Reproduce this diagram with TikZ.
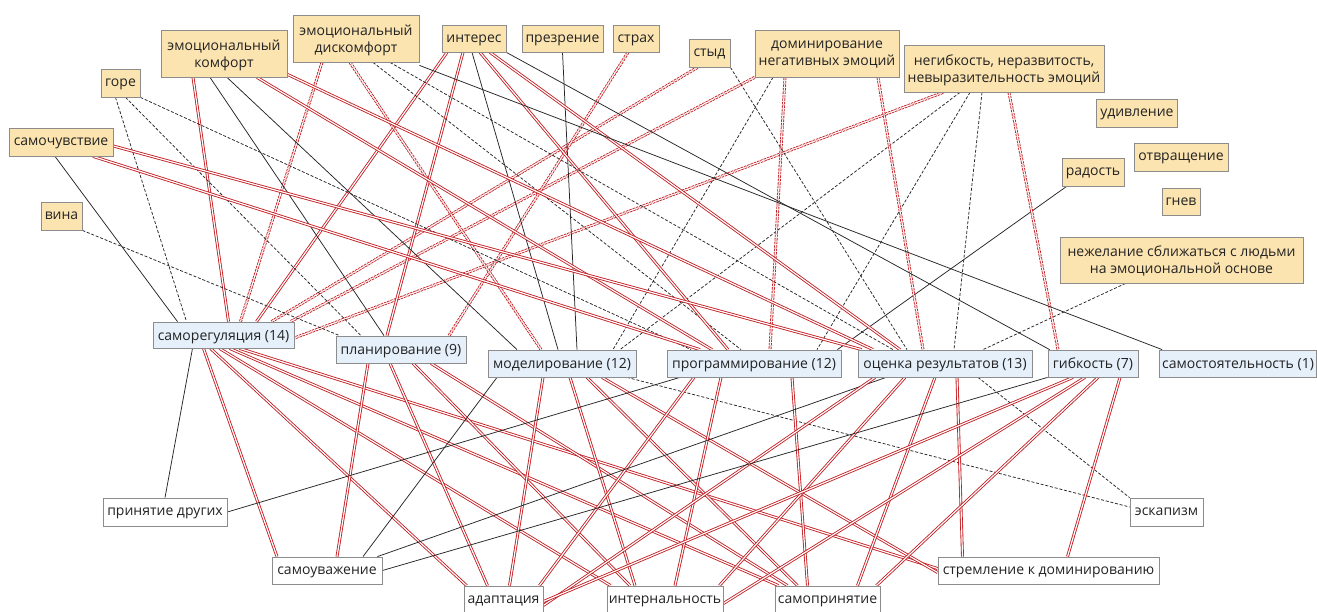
\documentclass[tikz,border=0pt]{standalone}
\usepackage{fontspec}
\setmainfont{Open Sans}
\usetikzlibrary{backgrounds}
\definecolor{emofill}{RGB}{252,228,176}
\definecolor{regfill}{RGB}{229,240,250}
\definecolor{boxgray}{RGB}{140,140,140}
\definecolor{textgray}{RGB}{35,35,35}
\definecolor{linered}{RGB}{195,28,33}
\begin{document}
\begin{tikzpicture}[x=1pt,y=-1pt,
  font=\fontsize{14}{17}\selectfont,
  box/.style={draw=boxgray, line width=0.8pt, inner sep=0pt, align=center, text=textgray, text depth=-1pt},
  emo/.style={box, fill=emofill},
  reg/.style={box, fill=regfill},
  per/.style={box, fill=white},
  pb/.style={draw=black!85, line width=0.75pt},
  nb/.style={draw=black!85, line width=0.75pt, dash pattern=on 3pt off 1.8pt},
  pr/.style={draw=linered, line width=0.85pt, double=white, double distance=1.2pt},
  nr/.style={draw=linered, line width=0.85pt, double=white, double distance=1.2pt, dash pattern=on 2.5pt off 1pt},
]
\useasboundingbox (0,0) rectangle (1317,612);
% emotions
\node[emo, minimum width=39, minimum height=28] (gore) at (120.5,83) {горе};
\node[emo, minimum width=104, minimum height=28] (samoch) at (61,142) {самочувствие};
\node[emo, minimum width=41, minimum height=28] (vina) at (61.5,216) {вина};
\node[emo, minimum width=126, minimum height=47] (emkomf) at (224,53.5) {эмоциональный\\комфорт};
\node[emo, minimum width=126, minimum height=47] (emdisk) at (356,38.5) {эмоциональный\\дискомфорт};
\node[emo, minimum width=64, minimum height=27] (interes) at (474,38.5) {интерес};
\node[emo, minimum width=81, minimum height=27] (prezr) at (562.5,38.5) {презрение};
\node[emo, minimum width=46, minimum height=27] (strah) at (636,38.5) {страх};
\node[emo, minimum width=41, minimum height=28] (styd) at (709.5,53) {стыд};
\node[emo, minimum width=144, minimum height=47] (domin) at (827,53.5) {доминирование\\негативных эмоций};
\node[emo, minimum width=200, minimum height=47] (negib) at (1004,68.5) {негибкость, неразвитость,\\невыразительность эмоций};
\node[emo, minimum width=81, minimum height=28] (udiv) at (1137,113) {удивление};
\node[emo, minimum width=94, minimum height=28] (otvr) at (1181,157) {отвращение};
\node[emo, minimum width=62, minimum height=28] (radost) at (1093,172) {радость};
\node[emo, minimum width=38, minimum height=27] (gnev) at (1181,201.5) {гнев};
\node[emo, minimum width=243, minimum height=46] (nezhel) at (1181.5,260) {нежелание сближаться с людьми\\на эмоциональной основе};
% regulation
\node[reg, minimum width=141, minimum height=26] (samoreg) at (223.5,335) {саморегуляция (14)};
\node[reg, minimum width=130, minimum height=27] (plan) at (401,349.5) {планирование (9)};
\node[reg, minimum width=148, minimum height=27] (model) at (562,363.5) {моделирование (12)};
\node[reg, minimum width=174, minimum height=27] (prog) at (754,363.5) {программирование (12)};
\node[reg, minimum width=174, minimum height=27] (ocen) at (945,363.5) {оценка результатов (13)};
\node[reg, minimum width=90, minimum height=27] (gibk) at (1093,363.5) {гибкость (7)};
\node[reg, minimum width=157, minimum height=27] (samost) at (1238,363.5) {самостоятельность (1)};
% personality
\node[per, minimum width=124, minimum height=28] (prin) at (165,512) {принятие других};
\node[per, minimum width=110, minimum height=27] (samouv) at (327,570.5) {самоуважение};
\node[per, minimum width=79, minimum height=27] (adapt) at (503.5,599.5) {адаптация};
\node[per, minimum width=116, minimum height=27] (intern) at (665,599.5) {интернальность};
\node[per, minimum width=105, minimum height=27] (samopr) at (827.5,599.5) {самопринятие};
\node[per, minimum width=221, minimum height=27] (strem) at (1048.5,570.5) {стремление к доминированию};
\node[per, minimum width=73, minimum height=28] (eskap) at (1166.5,512) {эскапизм};
\begin{scope}[on background layer]
\fill[white] (0,0) rectangle (1317,612);
% samoreg, upper
\draw[pb] ([xshift=-6pt]samoch.south) -- ([xshift=-46pt]samoreg.north);
\draw[nb] ([xshift=-5pt]gore.south) -- ([xshift=-37pt]samoreg.north);
\draw[pr] ([xshift=-31pt]emkomf.south) -- ([xshift=5pt]samoreg.north);
\draw[nr] ([xshift=-34pt]emdisk.south) -- ([xshift=17pt]samoreg.north);
\draw[pr] ([xshift=-27pt]interes.south) -- ([xshift=33pt]samoreg.north);
\draw[nr] ([xshift=-12pt]styd.south) -- ([xshift=48pt]samoreg.north);
\draw[nr] (domin.south west) -- ([xshift=-4pt]samoreg.north east);
\draw[nr] ([xshift=-61pt]negib.south) -- ([yshift=-3pt]samoreg.east);
% samoreg, lower
\draw[pb] ([xshift=-31pt]samoreg.south) -- (prin.north);
\draw[pr] ([xshift=-20pt]samoreg.south) -- ([xshift=-50pt]samouv.north);
\draw[pr] ([xshift=-13pt]samoreg.south) -- ([xshift=3pt]adapt.north west);
\draw[pr] ([xshift=-4pt]samoreg.south) -- ([xshift=4pt]intern.north west);
\draw[pr] ([xshift=6pt]samoreg.south) -- ([xshift=4pt]samopr.north west);
\draw[pr] ([xshift=16pt]samoreg.south) -- ([yshift=2pt]strem.west);
% plan
\draw[nb] (vina.south east) -- ([xshift=4pt]plan.north west);
\draw[nb] ([xshift=5pt]gore.south) -- ([xshift=-40pt]plan.north);
\draw[pb] ([xshift=-14pt]emkomf.south) -- ([xshift=-17pt]plan.north);
\draw[nr] ([xshift=-8pt]strah.south) -- ([xshift=48pt]plan.north);
\draw[pr] ([xshift=-11pt]interes.south) -- ([xshift=-14pt]plan.north);
\draw[pr] ([xshift=-33pt]plan.south) -- ([xshift=10pt]samouv.north);
\draw[pr] ([xshift=-11pt]plan.south) -- ([xshift=-16pt]adapt.north);
\draw[pr] ([xshift=12pt]plan.south) -- ([xshift=-35pt]intern.north);
\draw[pr] ([xshift=30pt]plan.south) -- ([xshift=-40pt]samopr.north);
% model
\draw[pb] ([xshift=3pt]emkomf.south) -- ([xshift=-45pt]model.north);
\draw[pb] ([xshift=-2pt]interes.south) -- ([xshift=-4pt]model.north);
\draw[pb] (prezr.south) -- ([xshift=15pt]model.north);
\draw[nr] ([xshift=-6pt]emdisk.south) -- ([xshift=-21pt]model.north);
\draw[nb] ([xshift=-54pt]domin.south) -- ([xshift=51pt]model.north);
\draw[nb] ([xshift=-44pt]negib.south) -- ([xshift=58pt]model.north);
\draw[pb] ([xshift=-65pt]model.south) -- ([xshift=36pt]samouv.north);
\draw[nb] ([xshift=65pt]model.south) -- ([yshift=5pt]eskap.west);
\draw[pr] ([xshift=-19pt]model.south) -- ([xshift=6pt]adapt.north);
\draw[pr] ([xshift=8pt]model.south) -- ([xshift=-30pt]intern.north);
\draw[pr] ([xshift=25pt]model.south) -- ([xshift=-30pt]samopr.north);
\draw[pr] ([xshift=40pt]model.south) -- ([yshift=-2pt]strem.west);
% prog
\draw[nb] (gore.south east) -- ([xshift=-63pt]prog.north);
\draw[nb] ([xshift=17pt]emdisk.south) -- ([xshift=-13pt]prog.north);
\draw[pr] ([xshift=32pt]samoch.south) -- ([xshift=-54pt]prog.north);
\draw[pr] ([xshift=33pt]emkomf.south) -- ([xshift=-42pt]prog.north);
\draw[pr] ([xshift=6pt]interes.south) -- ([xshift=-26pt]prog.north);
\draw[nr] ([xshift=-42pt]domin.south) -- ([xshift=16pt]prog.north);
\draw[nb] ([xshift=-34pt]negib.south) -- ([xshift=63pt]prog.north);
\draw[pb] ([xshift=5pt]radost.south west) -- ([xshift=-4pt]prog.north east);
\draw[pb] ([xshift=-74pt]prog.south) -- (prin.east);
\draw[pr] ([xshift=-60pt]prog.south) -- ([xshift=-4pt]adapt.north east);
\draw[pr] ([xshift=-33pt]prog.south) -- ([xshift=10pt]intern.north);
\draw[pr] ([xshift=38pt]prog.south) -- ([xshift=-20pt]samopr.north);
% ocen
\draw[nb] ([xshift=34pt]emdisk.south) -- ([xshift=-52pt]ocen.north);
\draw[nb] (styd.south east) -- ([xshift=-38pt]ocen.north);
\draw[pr] ([xshift=16pt]interes.south) -- ([xshift=-45pt]ocen.north);
\draw[pr] ([yshift=-4pt]samoch.east) -- ([xshift=4pt]ocen.north west);
\draw[pr] ([yshift=3pt]emkomf.south east) -- ([xshift=-72pt]ocen.north);
\draw[nr] ([xshift=51pt]domin.south) -- ([xshift=-22pt]ocen.north);
\draw[nb] ([xshift=-22pt]negib.south) -- ([xshift=9pt]ocen.north);
\draw[nb] ([xshift=-56pt]nezhel.south) -- ([xshift=38pt]ocen.north);
\draw[pb] ([xshift=-59pt]ocen.south) -- ([xshift=-5pt]samouv.north east);
\draw[nb] ([xshift=33pt]ocen.south) -- (eskap.north west);
\draw[pr] ([xshift=12pt]ocen.south) -- ([xshift=-86pt]strem.north);
\draw[pr] ([xshift=-70pt]ocen.south) -- ([yshift=-6pt]adapt.east);
\draw[pr] ([xshift=-40pt]ocen.south) -- ([xshift=-4pt]intern.north east);
\draw[pr] ([xshift=-10pt]ocen.south) -- ([xshift=30pt]samopr.north);
% gibk
\draw[pb] (interes.south east) -- ([xshift=2pt]gibk.north west);
\draw[nr] ([xshift=5pt]negib.south) -- ([xshift=-35pt]gibk.north);
\draw[pb] (gibk.south west) -- (samouv.east);
\draw[pr] ([xshift=27pt]gibk.south) -- ([xshift=19pt]strem.north);
\draw[pr] ([xshift=-20pt]gibk.south) -- ([yshift=-2pt]adapt.east);
\draw[pr] ([xshift=-8pt]gibk.south) -- ([yshift=-4pt]intern.east);
\draw[pr] ([xshift=5pt]gibk.south) -- ([xshift=-4pt]samopr.north east);
% samost
\draw[pb] ([yshift=-3pt]emdisk.south east) -- ([xshift=3pt]samost.north west);
\end{scope}
\end{tikzpicture}
\end{document}
